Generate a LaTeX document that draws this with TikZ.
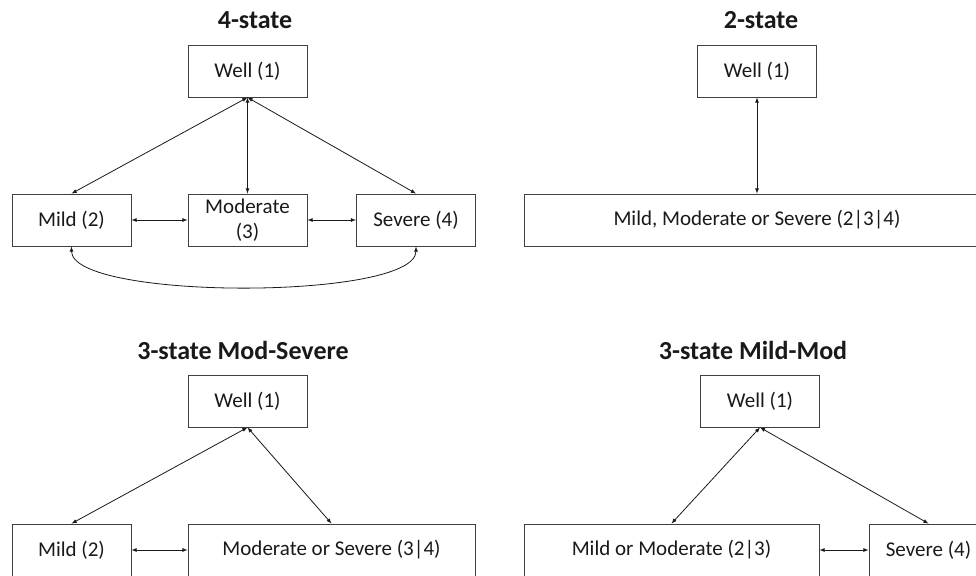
\documentclass[tikz,border=0pt]{standalone}
\usepackage{fontspec}
\setmainfont{Carlito}
\usepackage{tikz}
\tikzset{>=latex}

\begin{document}
\begin{tikzpicture}[x=1pt,y=-1pt]
      \tikzstyle{state}=[draw=black!75,line width=.9pt,minimum width=119pt,minimum height=52pt,inner sep=2pt,text=black!90,font=\fontsize{21}{25}\selectfont];
      \tikzstyle{title}=[text=black!90,font=\bfseries\fontsize{26}{30}\selectfont];
      \tikzstyle{link}=[<->,line width=.8pt,black!90];
      \clip (0,0) rectangle (976,575);
      % 4-state
      \node[title] (t4) at (255,20) {4-state};
      \node[state] (well4) at (247.5,71) {Well (1)};
      \node[state] (mild4) at (71.5,220) {Mild (2)};
      \node[state,align=center] (mod4) at (247.5,220) {Moderate\\(3)};
      \node[state] (sev4) at (416,220) {Severe (4)};
      \draw[link](well4.south)--(mild4.north);
      \draw[link](well4.south)--(mod4.north);
      \draw[link](well4.south)--(sev4.north);
      \draw[link](mild4.east)--(mod4.west);
      \draw[link](mod4.east)--(sev4.west);
      \draw[link](mild4.south) .. controls +(0,54) and +(0,54) .. (sev4.south);
      % 2-state
      \node[title] (t2) at (761,20) {2-state};
      \node[state] (well2) at (757,71) {Well (1)};
      \node[state,minimum width=466pt] (ill2) at (757,220) {Mild, Moderate or Severe (2|3|4)};
      \draw[link](well2.south)--(ill2.north);
      % 3-state Mod-Severe
      \node[title] (tms) at (243,350) {3-state Mod-Severe};
      \node[state] (wellms) at (247.5,401) {Well (1)};
      \node[state] (mildms) at (71.5,550) {Mild (2)};
      \node[state,minimum width=287pt] (modsev) at (331.5,550) {Moderate or Severe (3|4)};
      \draw[link](wellms.south)--(mildms.north);
      \draw[link](wellms.south)--(modsev.north);
      \draw[link](mildms.east)--(modsev.west);
      % 3-state Mild-Mod
      \node[title] (tmm) at (753,350) {3-state Mild-Mod};
      \node[state] (wellmm) at (760,401) {Well (1)};
      \node[state,minimum width=295pt] (mildmod) at (671.5,550) {Mild or Moderate (2|3)};
      \node[state] (sevmm) at (928.5,550) {Severe (4)};
      \draw[link](wellmm.south)--(mildmod.north);
      \draw[link](wellmm.south)--(sevmm.north);
      \draw[link](mildmod.east)--(sevmm.west);
\end{tikzpicture}
\end{document}
